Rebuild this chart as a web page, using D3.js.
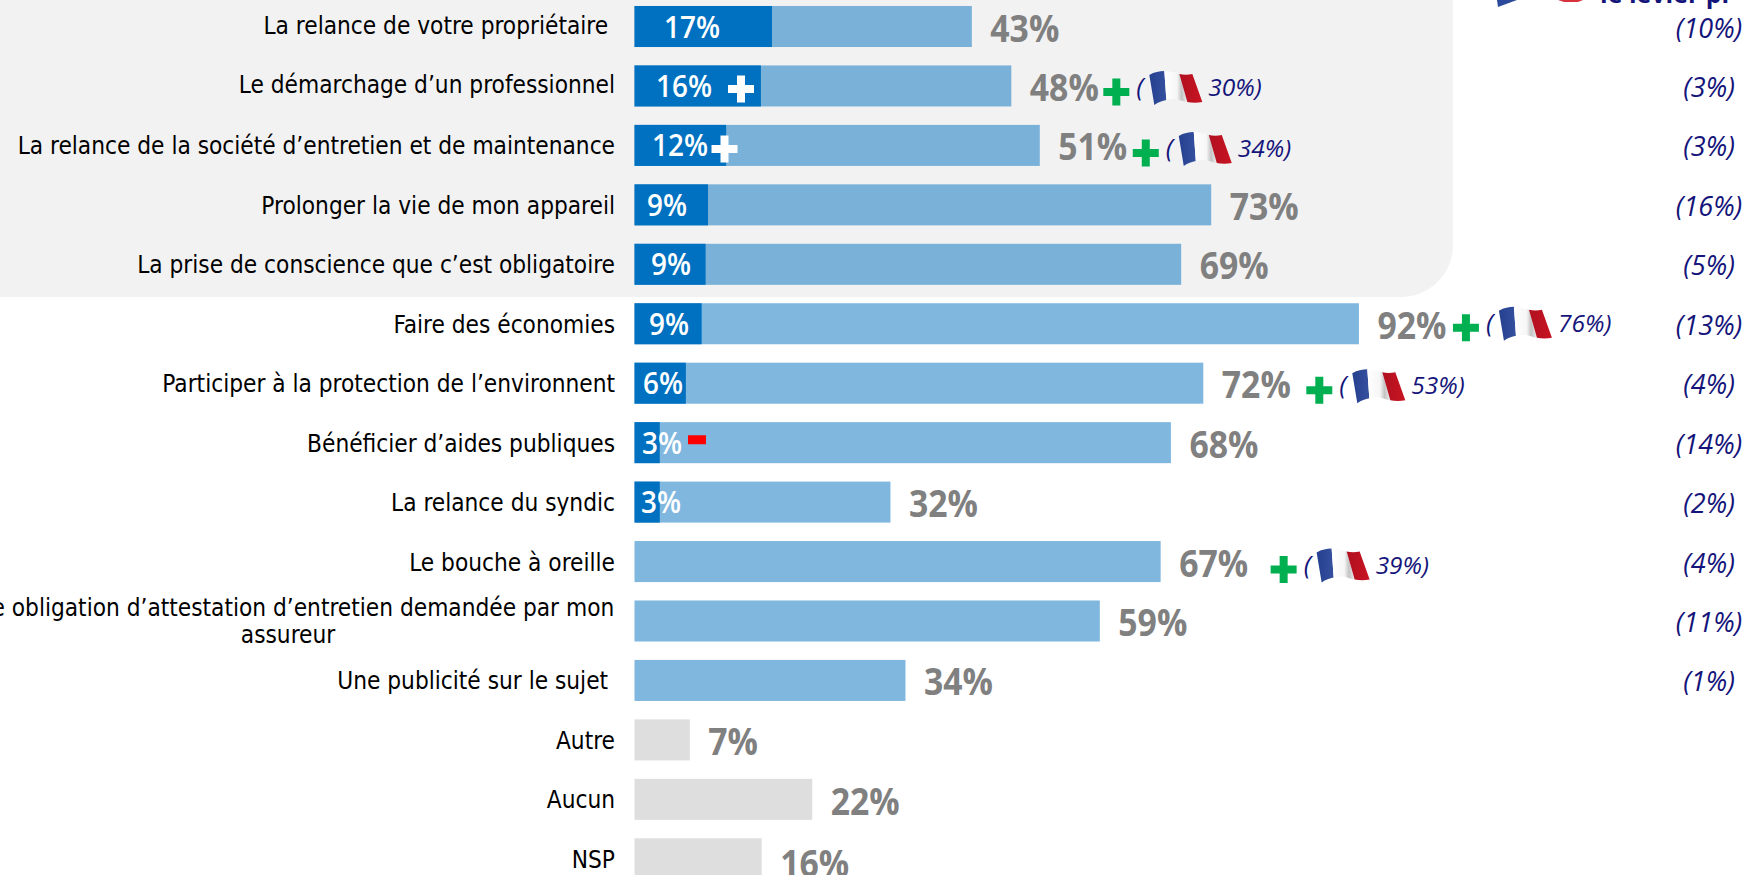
<!DOCTYPE html>
<html lang="fr">
<head>
<meta charset="utf-8">
<script src="https://cdn.jsdelivr.net/npm/d3@7"></script>
<style>
html,body{margin:0;padding:0;background:#fff;overflow:hidden}
svg{display:block}
</style>
</head>
<body>
<svg id="chart" width="1747" height="875">
  <defs>
    <linearGradient id="flagBlue" x1="0" x2="1" y1="0" y2="0"><stop offset="0" stop-color="#24408f"/><stop offset="1" stop-color="#34509f"/></linearGradient>
    <linearGradient id="flagWhite" x1="0" x2="1" y1="0" y2="0"><stop offset="0" stop-color="#ffffff"/><stop offset="0.55" stop-color="#f6f6f6"/><stop offset="0.75" stop-color="#c4c4c4"/><stop offset="1" stop-color="#eeeeee"/></linearGradient>
    <linearGradient id="flagRed" x1="0" x2="1" y1="0" y2="0"><stop offset="0" stop-color="#b01020"/><stop offset="1" stop-color="#c81422"/></linearGradient>
  </defs>
</svg>
<script>
// ---- data ----
const categories = [
  "La relance de votre propriétaire\u00a0",
  "Le démarchage d’un professionnel",
  "La relance de la société d’entretien et de maintenance",
  "Prolonger la vie de mon appareil",
  "La prise de conscience que c’est obligatoire",
  "Faire des économies",
  "Participer à la protection de l’environnent",
  "Bénéficier d’aides publiques",
  "La relance du syndic",
  "Le bouche à oreille",
  "Une obligation d’attestation d’entretien demandée par mon assureur",
  "Une publicité sur le sujet\u00a0",
  "Autre",
  "Aucun",
  "NSP"
];
const totalValues = [42.7,47.7,51.3,73.0,69.2,91.7,72.0,67.9,32.4,66.6,58.9,34.3,7.0,22.5,16.1];
const totalLabels = ["43%","48%","51%","73%","69%","92%","72%","68%","32%","67%","59%","34%","7%","22%","16%"];
const mainValues  = [17.4,16.0,11.6,9.3,9.0,8.5,6.5,3.2,3.2,null,null,null,null,null,null];
const mainLabels  = ["17%","16%","12%","9%","9%","9%","6%","3%","3%",null,null,null,null,null,null];
const rightLabels = ["(10%)","(3%)","(3%)","(16%)","(5%)","(13%)","(4%)","(14%)","(2%)","(4%)","(11%)","(1%)",null,null,null];
const franceLabels = [null,"30%)","34%)",null,null,"76%)","53%)",null,null,"39%)",null,null,null,null,null];
const mainSignificance = [null,"+","+",null,null,null,null,"-",null,null,null,null,null,null,null];
const headerText = "le levier pr";

// ---- layout tweaks (not data) ----
const mainLabelCenter = [692,684,680,667,671,669,663,662,661];
const calloutPlusOffset = {1:105,2:106,5:107,6:116,9:123};
const calloutDy = {1:2,2:3.6,5:0,6:3,9:4};
const whitePlusCenter = {1:[741,89],2:[724.5,149]};
const valueLabelDy = {13:1,14:3};

const BLUE="#0070c0", GREY_BAR="#dedede", GREY_TXT="#808080", NAVY="#14147a", GREEN="#00b050";
const SANS="'Open Sans',sans-serif";
const LABEL="'DejaVu Sans Condensed','DejaVu Sans',sans-serif";

const svg=d3.select("#chart");
const x=d3.scaleLinear().domain([0,100]).range([634.5,1424.5]);
const step=59.45, y0=26.5-step/2;
const y=d3.scaleBand().domain(d3.range(categories.length))
  .range([y0,y0+step*categories.length]).paddingInner(0.31).paddingOuter(0.155);
const cy=i=>y(i)+y.bandwidth()/2;

// panel
svg.append("rect").attr("x",-80).attr("y",-80).attr("width",1533).attr("height",377)
  .attr("rx",52).attr("fill","#f2f2f2");

// header fragments cropped at the top edge
svg.append("path").attr("d","M1497,0H1517L1498,7Z").attr("fill","#2b4a9b");
svg.append("path").attr("d","M1558,0H1583L1578,2H1564Z").attr("fill","#d8323c");
svg.append("text").attr("x",1600).attr("y",3).attr("font-family",SANS).attr("font-weight",700)
  .attr("font-size",25).attr("fill",NAVY).text(headerText);

const rows=svg.append("g").selectAll("g").data(categories).join("g");

// bars
rows.append("rect").attr("x",x(0)).attr("y",(d,i)=>y(i))
  .attr("width",(d,i)=>x(totalValues[i])-x(0)).attr("height",y.bandwidth())
  .attr("fill",(d,i)=>i>=12?GREY_BAR:BLUE).attr("fill-opacity",(d,i)=>i>=12?1:0.5);
rows.filter(d=>mainValues[categories.indexOf(d)]!=null).append("rect").attr("x",x(0)).attr("y",d=>y(categories.indexOf(d)))
  .attr("width",d=>x(mainValues[categories.indexOf(d)])-x(0)).attr("height",y.bandwidth()).attr("fill",BLUE);

// category labels
rows.each(function(d,i){
  const g=d3.select(this);
  const t=g.append("text").attr("font-family",LABEL).attr("font-size",24.2).attr("fill","#000");
  if(i===10){
    t.attr("text-anchor","middle");
    t.append("tspan").attr("x",288).attr("y",cy(i)-5).text("Une obligation d’attestation d’entretien demandée par mon");
    t.append("tspan").attr("x",288).attr("y",cy(i)+22).text("assureur");
  }else{
    t.attr("text-anchor","end").attr("x",615).attr("y",cy(i)+(i<2?7:9)).text(d);
  }
});

// value labels
rows.append("text").attr("transform",(d,i)=>`translate(${x(totalValues[i])+18.5},${cy(i)+15+(valueLabelDy[i]||0)}) scale(0.9,1)`)
  .attr("font-family",SANS).attr("font-weight",700).attr("font-size",37.5).attr("fill",GREY_TXT)
  .text((d,i)=>totalLabels[i]);

// inner labels
rows.filter(d=>mainLabels[categories.indexOf(d)]!=null).append("text")
  .attr("transform",d=>`translate(${mainLabelCenter[categories.indexOf(d)]},${cy(categories.indexOf(d))+11}) scale(0.93,1)`)
  .attr("text-anchor","middle").attr("font-family",SANS).attr("font-weight",600).attr("font-size",30).attr("fill","#fff")
  .text(d=>mainLabels[categories.indexOf(d)]);

// right column
rows.filter(d=>rightLabels[categories.indexOf(d)]!=null).append("text")
  .attr("x",1709).attr("y",d=>cy(categories.indexOf(d))+11)
  .attr("text-anchor","middle").attr("font-family",SANS).attr("font-style","italic").attr("font-size",27).attr("fill",NAVY)
  .text(d=>rightLabels[categories.indexOf(d)]);

function plus(g,cx,cyy,fill){
  g.append("path").attr("fill",fill)
   .attr("d",`M${cx-13},${cyy-4}H${cx-4}V${cyy-13.5}H${cx+4}V${cyy-4}H${cx+13}V${cyy+4}H${cx+4}V${cyy+13.5}H${cx-4}V${cyy+4}H${cx-13}Z`);
}
function flag(g,fx,fy){
  const f=g.append("g").attr("transform",`translate(${fx},${fy})`);
  f.append("path").attr("d","M0,4C5,1 10,0 15,0L17,29C13,30 9,31 5,34Z").attr("fill","url(#flagBlue)");
  f.append("path").attr("d","M15,0C20,0 26,2 30,3L38,31C34,31 30,28 25,28C22,28 19,28 17,29Z").attr("fill","url(#flagWhite)");
  f.append("path").attr("d","M30,3C34,4 39,4 43,3L53,31C48,32 43,32 38,31Z").attr("fill","url(#flagRed)");
}

// significance marks & France callouts
rows.each(function(d,i){
  const g=d3.select(this);
  const white=whitePlusCenter[i];
  if(mainSignificance[i]==="+") plus(g,white[0],white[1],"#fff");
  if(mainSignificance[i]==="-") g.append("rect").attr("x",688).attr("y",cy(i)-7.4).attr("width",18).attr("height",9).attr("fill","#ff0000");
  if(franceLabels[i]){
    const px=x(totalValues[i])+calloutPlusOffset[i], c=cy(i)+calloutDy[i];
    plus(g,px,c+4,GREEN);
    g.append("text").attr("x",px+20).attr("y",c+8).attr("font-family",SANS).attr("font-style","italic")
      .attr("font-size",26).attr("fill",NAVY).text("(");
    flag(g,px+33,c-17);
    g.append("text").attr("x",px+92).attr("y",c+8).attr("font-family",SANS).attr("font-style","italic")
      .attr("font-size",24.5).attr("fill",NAVY).text(franceLabels[i]);
  }
});
</script>
</body>
</html>
